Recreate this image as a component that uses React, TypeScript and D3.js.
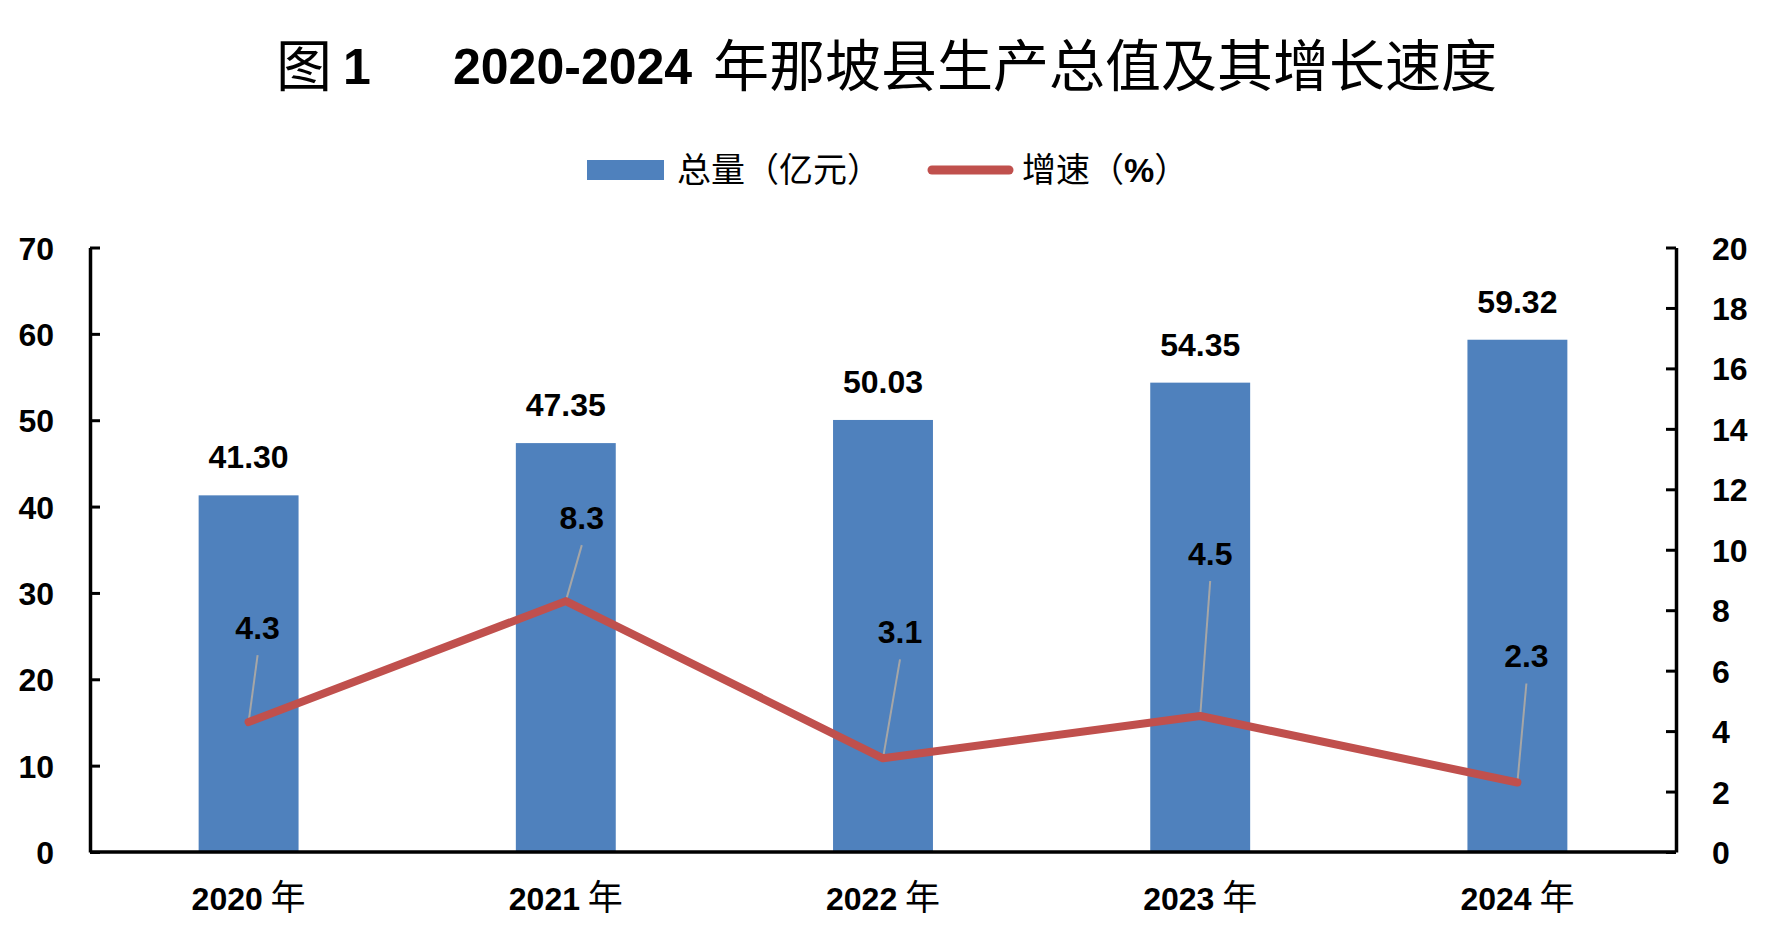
import * as d3 from 'd3';
import React, { useEffect, useRef } from 'react';

const years = ['2020', '2021', '2022', '2023', '2024'];
const totals = [41.3, 47.35, 50.03, 54.35, 59.32];
const growth = [4.3, 8.3, 3.1, 4.5, 2.3];
const leftTicks = [0, 10, 20, 30, 40, 50, 60, 70];
const rightTicks = [0, 2, 4, 6, 8, 10, 12, 14, 16, 18, 20];
// label offsets (dx, dy to baseline) for the growth labels, as Excel placed them
const growthLabelOffsets = [[9, -83], [16, -72], [17, -115], [10, -151], [9, -115]];

const WIDTH = 1770;
const HEIGHT = 948;
const BAR_COLOR = '#4F81BD';
const LINE_COLOR = '#C0504D';
const LEADER_COLOR = '#A6A6A6';
const NUM_FONT = '"Liberation Sans", Arial, sans-serif';
const CJK_FONT = '"Noto Sans CJK SC", "Noto Sans CJK TC", sans-serif';
const NUM_SIZE = 32;

const plot = { left: 90, right: 1676, top: 247.5, bottom: 852 };

const App: React.FC = () => {
  const leftAxisRef = useRef<SVGGElement>(null);
  const rightAxisRef = useRef<SVGGElement>(null);

  const xScale = d3.scaleBand()
    .domain(years)
    .range([plot.left, plot.right])
    .paddingInner(0.685)
    .paddingOuter(0.3425);

  const yLeft = d3.scaleLinear().domain([0, 70]).range([plot.bottom, plot.top]);
  const yRight = d3.scaleLinear().domain([0, 20]).range([plot.bottom, plot.top]);

  const center = (yr: string) => xScale(yr)! + xScale.bandwidth() / 2;

  const linePath = d3.line<number>()
    .x((_, i) => center(years[i]))
    .y(v => yRight(v))(growth);

  useEffect(() => {
    const styleAxis = (g: d3.Selection<SVGGElement, unknown, null, undefined>) => {
      g.select('.domain').attr('stroke', '#000').attr('stroke-width', 3.5);
      g.selectAll('.tick line').attr('stroke', '#000').attr('stroke-width', 3);
      g.selectAll('.tick text')
        .attr('fill', '#000')
        .attr('dy', '0.36em')
        .style('font-family', NUM_FONT)
        .style('font-weight', 'bold')
        .style('font-size', `${NUM_SIZE}px`);
    };

    if (leftAxisRef.current) {
      const g = d3.select(leftAxisRef.current);
      g.selectAll('*').remove();
      g.call(d3.axisLeft(yLeft).tickValues(leftTicks).tickSizeInner(-10).tickSizeOuter(0).tickPadding(36));
      styleAxis(g);
    }
    if (rightAxisRef.current) {
      const g = d3.select(rightAxisRef.current);
      g.selectAll('*').remove();
      g.call(d3.axisRight(yRight).tickValues(rightTicks).tickSizeInner(-10).tickSizeOuter(0).tickPadding(36));
      styleAxis(g);
    }
  }, []);

  return (
    <div style={{ position: 'absolute', left: 0, top: 0, background: '#fff' }}>
      <svg width={WIDTH} height={HEIGHT} viewBox={`0 0 ${WIDTH} ${HEIGHT}`}>
        <rect width={WIDTH} height={HEIGHT} fill="#fff" />

        {/* Title */}
        <text x={276} y={86} fontFamily={CJK_FONT} fontSize={56} fill="#000">图</text>
        <text x={343} y={84} fontFamily={NUM_FONT} fontWeight="bold" fontSize={50} fill="#000">1</text>
        <text x={453} y={84} fontFamily={NUM_FONT} fontWeight="bold" fontSize={50} fill="#000">2020-2024</text>
        <text x={713} y={86} fontFamily={CJK_FONT} fontSize={56} fill="#000">年那坡县生产总值及其增长速度</text>

        {/* Legend */}
        <rect x={587} y={160} width={77} height={20} fill={BAR_COLOR} />
        <text x={677} y={182} fontFamily={CJK_FONT} fontSize={34} fill="#000">总量（亿元）</text>
        <line x1={932} x2={1009} y1={170} y2={170} stroke={LINE_COLOR} strokeWidth={9} strokeLinecap="round" />
        <text x={1022} y={182} fontFamily={CJK_FONT} fontSize={34} fill="#000">
          增速（<tspan fontFamily={NUM_FONT} fontWeight="bold">%</tspan>）
        </text>

        {/* Bars */}
        {years.map((yr, i) => (
          <rect
            key={`bar-${yr}`}
            x={xScale(yr)}
            y={yLeft(totals[i])}
            width={xScale.bandwidth()}
            height={plot.bottom - yLeft(totals[i])}
            fill={BAR_COLOR}
          />
        ))}

        {/* Bar value labels */}
        {years.map((yr, i) => (
          <text
            key={`bl-${yr}`}
            x={center(yr)}
            y={yLeft(totals[i]) - 27}
            textAnchor="middle"
            fontFamily={NUM_FONT}
            fontWeight="bold"
            fontSize={NUM_SIZE}
            fill="#000"
          >
            {totals[i].toFixed(2)}
          </text>
        ))}

        {/* Axes */}
        <g ref={leftAxisRef} transform={`translate(${plot.left},0)`} />
        <g ref={rightAxisRef} transform={`translate(${plot.right},0)`} />
        <line x1={plot.left} x2={plot.right} y1={plot.bottom} y2={plot.bottom} stroke="#000" strokeWidth={3.5} />

        {/* Leader lines */}
        {years.map((yr, i) => {
          const [dx, dy] = growthLabelOffsets[i];
          const px = center(yr);
          const py = yRight(growth[i]);
          return (
            <line
              key={`ld-${yr}`}
              x1={px}
              y1={py}
              x2={px + dx}
              y2={py + dy + 16}
              stroke={LEADER_COLOR}
              strokeWidth={2}
            />
          );
        })}

        {/* Growth line */}
        <path d={linePath ?? ''} fill="none" stroke={LINE_COLOR} strokeWidth={8} strokeLinejoin="round" strokeLinecap="round" />

        {/* Growth labels */}
        {years.map((yr, i) => {
          const [dx, dy] = growthLabelOffsets[i];
          return (
            <text
              key={`gl-${yr}`}
              x={center(yr) + dx}
              y={yRight(growth[i]) + dy}
              textAnchor="middle"
              fontFamily={NUM_FONT}
              fontWeight="bold"
              fontSize={NUM_SIZE}
              fill="#000"
            >
              {growth[i].toFixed(1)}
            </text>
          );
        })}

        {/* Category labels */}
        {years.map(yr => (
          <text key={`cat-${yr}`} x={center(yr)} y={910} textAnchor="middle" fill="#000">
            <tspan fontFamily={NUM_FONT} fontWeight="bold" fontSize={NUM_SIZE}>{yr}</tspan>
            <tspan fontFamily={CJK_FONT} fontSize={35}> 年</tspan>
          </text>
        ))}
      </svg>
    </div>
  );
};

export default App;
